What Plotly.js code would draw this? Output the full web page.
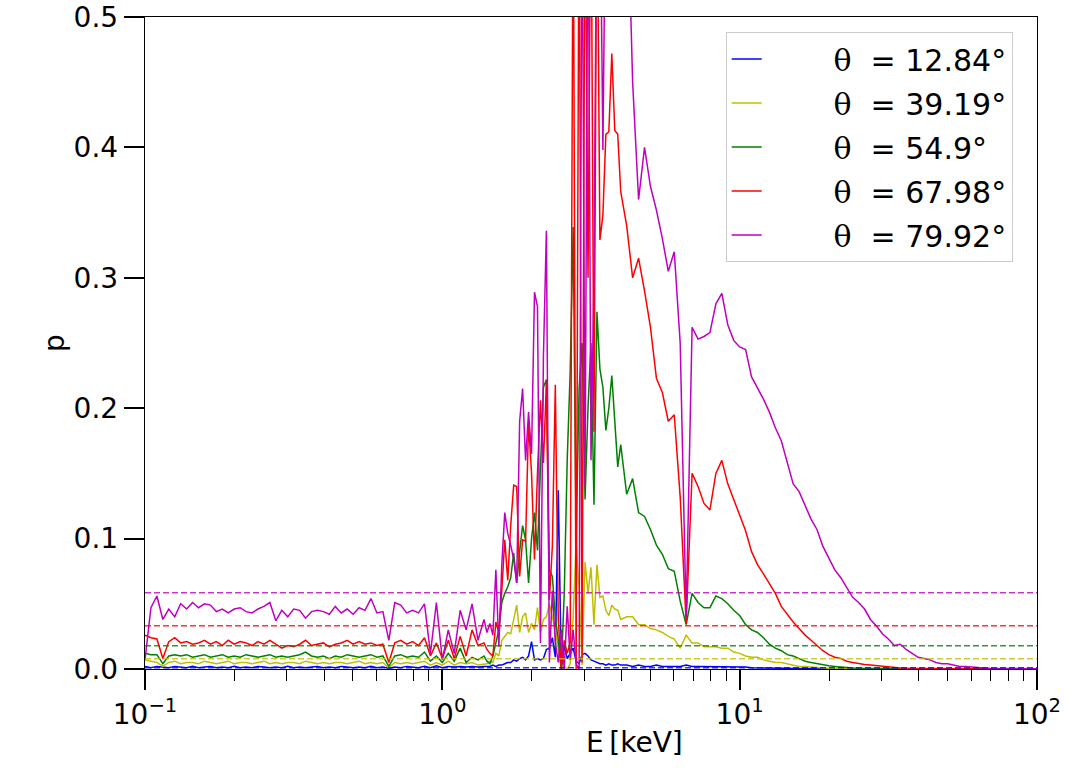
<!DOCTYPE html>
<html>
<head>
<meta charset="utf-8">
<script src="https://cdn.plot.ly/plotly-3.0.1.min.js"></script>
<style>
  html, body { margin: 0; padding: 0; background: #fff; }
  #chart { width: 1068px; height: 777px; }
</style>
</head>
<body>
<div id="chart"></div>
<script>
// energy grid (keV), log spaced, finer between 1.4 and 4 keV
const energy = [
    0.1,0.10471,0.10965,0.11482,0.12023,0.12589,0.13183,0.13804,0.14454,0.15136,
    0.15849,0.16596,0.17378,0.18197,0.19055,0.19953,0.20893,0.21878,0.22909,0.23988,
    0.25119,0.26303,0.27542,0.28840,0.30200,0.31623,0.33113,0.34674,0.36308,0.38019,
    0.39811,0.41687,0.43652,0.45709,0.47863,0.50119,0.52481,0.54954,0.57544,0.60256,
    0.63096,0.66069,0.69183,0.72444,0.75858,0.79433,0.83176,0.87096,0.91201,0.95499,
    1.0,1.0471,1.0965,1.1482,1.2023,1.2589,1.3183,1.3804,
    1.4125,1.4454,1.4791,1.5136,1.5488,1.5849,1.6218,1.6596,1.6982,1.7378,
    1.7783,1.8197,1.8621,1.9055,1.9498,1.9953,2.0417,2.0893,2.1380,2.1878,
    2.2387,2.2909,2.3442,2.3988,2.4547,2.5119,2.5704,2.6303,2.6915,2.7542,
    2.8184,2.8840,2.9512,3.0200,3.0903,3.1623,3.2359,3.3113,3.3884,3.4674,
    3.5481,3.6308,3.7154,3.8019,3.8905,3.9811,
    4.1687,4.3652,4.5709,4.7863,5.0119,5.2481,5.4954,5.7544,6.0256,6.3096,
    6.6069,6.9183,7.2444,7.5858,7.9433,8.3176,8.7096,9.1201,9.5499,10.0,
    10.471,10.965,11.482,12.023,12.589,13.183,13.804,14.454,15.136,15.849,
    16.596,17.378,18.197,19.055,19.953,20.893,21.878,22.909,23.988,25.119,
    26.303,27.542,28.840,30.200,31.623,33.113,34.674,36.308,38.019,39.811,
    41.687,43.652,45.709,47.863,50.119,52.481,54.954,57.544,60.256,63.096,
    66.069,69.183,72.444,75.858,79.433,83.176,87.096,91.201,95.499,100.0
];

// p for theta = 12.84
const p_12 = [
    0.002,0.001,0.002,0.0015,0.001,0.002,0.0015,0.001,0.002,0.001,
    0.0015,0.002,0.001,0.0015,0.001,0.002,0.001,0.0015,0.001,0.002,
    0.0015,0.001,0.0015,0.001,0.002,0.001,0.0015,0.001,0.0015,0.002,
    0.001,0.0015,0.001,0.002,0.0015,0.001,0.0015,0.001,0.002,0.001,
    0.0015,0.0005,0.0015,0.001,0.002,0.0015,0.001,0.002,0.001,0.0025,
    0.001,0.002,0.0015,0.002,0.0015,0.002,0.0015,0.002,
    0.002,0.002,0.003,0.002,0.003,0.003,0.004,0.005,0.005,0.007,
    0.006,0.008,0.009,0.007,0.010,0.021,0.007,0.008,0.007,0.008,
    0.015,0.016,0.024,0.009,0.137,0.000,0.018,0.008,0.012,0.016,
    0.006,0.004,0.011,0.012,0.010,0.007,0.006,0.005,0.004,0.004,
    0.003,0.004,0.003,0.003,0.004,0.003,
    0.003,0.002,0.003,0.002,0.002,0.003,0.002,0.002,0.002,0.002,
    0.003,0.002,0.002,0.002,0.002,0.002,0.002,0.0015,0.0015,0.0015,
    0.0015,0.001,0.001,0.001,0.0008,0.0007,0.0006,0.0005,0.0004,0.0003,
    0.0003,0.0002,0.0002,0.0002,0.0001,0.0001,0.0001,0.0001,0.0001,0.0001,
    0.0001,0.0001,0.0001,0.0001,0,0,0,0,0,0,
    0,0,0,0,0,0,0,0,0,0,
    0,0,0,0,0,0,0,0,0,0
];

// p for theta = 39.19
const p_39 = [
    0.007,0.006,0.005,0.002,0.005,0.006,0.004,0.005,0.005,0.004,
    0.006,0.005,0.004,0.005,0.006,0.004,0.005,0.005,0.004,0.005,
    0.006,0.004,0.005,0.004,0.005,0.005,0.004,0.006,0.005,0.004,
    0.005,0.004,0.005,0.005,0.004,0.005,0.006,0.004,0.005,0.004,
    0.005,0.001,0.005,0.004,0.005,0.004,0.005,0.006,0.003,0.005,
    0.003,0.006,0.003,0.005,0.004,0.005,0.003,0.004,
    0.004,0.006,0.005,0.012,0.010,0.022,0.025,0.028,0.027,0.038,
    0.049,0.028,0.040,0.043,0.028,0.035,0.030,0.047,0.028,0.038,
    0.040,0.050,0.040,0.030,0.015,0.000,0.002,0.000,0.004,0.040,
    0.097,0.061,0.003,0.082,0.058,0.078,0.034,0.080,0.055,0.056,
    0.045,0.041,0.049,0.046,0.045,0.038,
    0.040,0.040,0.034,0.034,0.031,0.030,0.028,0.025,0.023,0.016,
    0.026,0.020,0.020,0.017,0.017,0.017,0.016,0.016,0.013,0.012,
    0.010,0.009,0.009,0.007,0.006,0.005,0.005,0.004,0.003,0.002,
    0.002,0.0015,0.001,0.0008,0.0006,0.0005,0.0004,0.0003,0.0003,0.0002,
    0.0002,0.0001,0.0001,0.0001,0.0001,0.0001,0.0001,0.0001,0.0001,0,
    0,0,0,0,0,0,0,0,0,0,
    0,0,0,0,0,0,0,0,0,0
];

// p for theta = 54.9
const p_54 = [
    0.012,0.011,0.011,0.004,0.010,0.011,0.010,0.011,0.009,0.010,
    0.011,0.009,0.010,0.011,0.009,0.010,0.009,0.011,0.010,0.009,
    0.010,0.011,0.009,0.010,0.009,0.010,0.011,0.013,0.010,0.009,
    0.010,0.008,0.010,0.009,0.011,0.010,0.009,0.010,0.011,0.009,
    0.010,0.002,0.010,0.011,0.009,0.010,0.009,0.013,0.006,0.010,
    0.005,0.012,0.006,0.016,0.005,0.009,0.007,0.010,
    0.006,0.004,0.010,0.020,0.030,0.051,0.058,0.063,0.070,0.089,
    0.066,0.090,0.110,0.099,0.066,0.100,0.120,0.091,0.155,0.216,
    0.222,0.076,0.071,0.040,0.022,0.000,0.058,0.160,0.228,0.339,
    0.100,0.215,0.250,0.130,0.201,0.250,0.126,0.274,0.230,0.216,
    0.183,0.200,0.225,0.193,0.155,0.172,
    0.134,0.146,0.120,0.117,0.107,0.095,0.088,0.077,0.075,0.052,
    0.034,0.058,0.051,0.047,0.047,0.056,0.054,0.050,0.045,0.041,
    0.034,0.030,0.028,0.024,0.019,0.016,0.014,0.011,0.010,0.008,
    0.006,0.005,0.004,0.003,0.0025,0.002,0.0015,0.001,0.0008,0.0006,
    0.0005,0.0004,0.0003,0.0003,0.0002,0.0002,0.0001,0.0001,0.0001,0.0001,
    0.0001,0.0001,0.0001,0.0001,0,0,0,0,0,0,
    0,0,0,0,0,0,0,0,0,0
];

// p for theta = 67.98
const p_67 = [
    0.026,0.024,0.023,0.008,0.021,0.024,0.020,0.021,0.019,0.020,
    0.022,0.019,0.021,0.018,0.022,0.019,0.021,0.020,0.018,0.021,
    0.019,0.022,0.019,0.016,0.018,0.017,0.019,0.022,0.018,0.019,
    0.020,0.017,0.019,0.020,0.022,0.019,0.021,0.019,0.020,0.018,
    0.019,0.005,0.020,0.022,0.019,0.021,0.018,0.024,0.010,0.020,
    0.008,0.022,0.008,0.025,0.010,0.030,0.018,0.020,
    0.015,0.012,0.010,0.036,0.028,0.060,0.099,0.068,0.110,0.141,
    0.140,0.071,0.099,0.098,0.189,0.150,0.084,0.150,0.206,0.158,
    0.220,0.053,0.094,0.218,0.038,0.000,0.022,0.012,0.020,0.620,
    0.000,0.620,0.005,0.620,0.300,0.620,0.182,0.620,0.329,0.348,
    0.410,0.412,0.472,0.413,0.410,0.366,
    0.340,0.300,0.315,0.290,0.262,0.223,0.212,0.190,0.195,0.132,
    0.035,0.150,0.140,0.127,0.122,0.150,0.160,0.142,0.130,0.117,
    0.106,0.090,0.080,0.073,0.065,0.058,0.048,0.042,0.036,0.031,
    0.026,0.022,0.018,0.014,0.011,0.009,0.008,0.006,0.005,0.004,
    0.0035,0.003,0.0025,0.002,0.0015,0.001,0.0008,0.0006,0.0005,0.0004,
    0.0003,0.0003,0.0002,0.0002,0.0002,0.0001,0.0001,0.0001,0.0001,0.0001,
    0.0001,0.0001,0,0,0,0,0,0,0,0
];

// p for theta = 79.92
const p_79 = [
    0.007,0.047,0.056,0.038,0.046,0.040,0.050,0.046,0.051,0.047,
    0.050,0.049,0.044,0.046,0.043,0.046,0.047,0.044,0.043,0.046,
    0.048,0.051,0.037,0.045,0.040,0.046,0.045,0.039,0.044,0.045,
    0.044,0.042,0.048,0.043,0.046,0.042,0.047,0.045,0.054,0.043,
    0.044,0.022,0.051,0.049,0.043,0.045,0.043,0.050,0.012,0.051,
    0.007,0.030,0.012,0.045,0.030,0.050,0.022,0.038,
    0.028,0.035,0.026,0.076,0.017,0.080,0.120,0.104,0.095,0.084,
    0.066,0.190,0.215,0.160,0.197,0.165,0.289,0.278,0.020,0.240,
    0.336,0.005,0.060,0.020,0.005,0.030,0.000,0.048,0.007,0.030,
    0.004,0.000,0.620,0.140,0.620,0.160,0.300,0.620,0.620,0.398,
    0.620,0.620,0.620,0.620,0.620,0.620,
    0.620,0.450,0.360,0.400,0.370,0.352,0.330,0.305,0.320,0.250,
    0.040,0.262,0.253,0.255,0.258,0.280,0.288,0.264,0.252,0.247,
    0.245,0.224,0.216,0.207,0.197,0.185,0.175,0.158,0.142,0.136,
    0.125,0.115,0.107,0.094,0.085,0.076,0.070,0.062,0.055,0.051,
    0.046,0.038,0.033,0.027,0.023,0.018,0.019,0.015,0.012,0.009,
    0.008,0.007,0.005,0.004,0.004,0.003,0.002,0.002,0.0015,0.001,
    0.0008,0.0006,0.0005,0.0004,0.0003,0.0003,0.0002,0.0002,0.0001,0.0001
];

const angles = ['12.84', '39.19', '54.9', '67.98', '79.92'];
const colors = ['#0000ff', '#bfbf00', '#008000', '#ff0000', '#bf00bf'];
const series = [p_12, p_39, p_54, p_67, p_79];
// flat levels drawn dashed, one per angle
const p_mean = [0.0010, 0.0079, 0.0179, 0.0332, 0.0585];

// axis ticks
const major_ticks = [0.1, 1, 10, 100];
const major_labels = ['10<sup>−1</sup>', '10<sup>0</sup>', '10<sup>1</sup>', '10<sup>2</sup>'];
const minor_ticks = [0.2, 0.3, 0.4, 0.5, 0.6, 0.7, 0.8, 0.9,
                     2, 3, 4, 5, 6, 7, 8, 9,
                     20, 30, 40, 50, 60, 70, 80, 90];

const nbsp = '\u00a0';
const traces = [];

for (let i = 0; i < series.length; i++) {
    traces.push({
        x: energy,
        y: series[i],
        type: 'scatter',
        mode: 'lines',
        line: { color: colors[i], width: 1.5 },
        name: nbsp.repeat(7) + '<span style="font-family:\'DejaVu Serif\'">θ</span>' + nbsp + nbsp + '=' + nbsp + angles[i] + '°',
        legendgroup: 'g' + i
    });
}

for (let i = 0; i < p_mean.length; i++) {
    traces.push({
        x: [energy[0], energy[energy.length - 1]],
        y: [p_mean[i], p_mean[i]],
        type: 'scatter',
        mode: 'lines',
        line: { color: colors[i], width: 1.5, dash: '6px,3px' },
        opacity: 0.8,
        showlegend: false
    });
}

const tick_font = { family: 'DejaVu Sans', size: 28, color: '#000' };

const layout = {
    width: 1068,
    height: 777,
    margin: { l: 145, r: 31, t: 17, b: 108 },
    paper_bgcolor: '#fff',
    plot_bgcolor: '#fff',
    font: { family: 'DejaVu Sans', color: '#000' },
    showlegend: true,
    xaxis: {
        type: 'log',
        range: [-1, 2],
        tickmode: 'array',
        tickvals: major_ticks,
        ticktext: major_labels,
        ticks: 'outside',
        ticklen: 20,
        tickwidth: 2,
        tickcolor: '#000',
        minor: {
            tickmode: 'array',
            tickvals: minor_ticks,
            ticks: 'outside',
            ticklen: 11,
            tickwidth: 1,
            tickcolor: '#000',
            showgrid: false
        },
        showline: true,
        linecolor: '#000',
        linewidth: 1.3,
        mirror: true,
        showgrid: false,
        zeroline: false,
        tickfont: tick_font
    },
    yaxis: {
        range: [0, 0.5],
        dtick: 0.1,
        tick0: 0,
        tickformat: '.1f',
        ticks: 'outside',
        ticklen: 20,
        tickwidth: 2,
        tickcolor: '#000',
        showline: true,
        linecolor: '#000',
        linewidth: 1.3,
        mirror: true,
        showgrid: false,
        zeroline: false,
        tickfont: tick_font,
        title: { text: 'p', font: tick_font, standoff: 0 }
    },
    // x label sits right of the axis centre in the original
    annotations: [{
        text: 'E\u2009[keV]',
        xref: 'paper',
        yref: 'paper',
        x: 0.549,
        y: -0.112,
        xanchor: 'center',
        yanchor: 'middle',
        showarrow: false,
        font: tick_font
    }],
    legend: {
        x: 0.651,
        y: 0.977,
        xanchor: 'left',
        yanchor: 'top',
        bgcolor: 'rgba(255,255,255,0.8)',
        bordercolor: '#cccccc',
        borderwidth: 1,
        font: { family: 'DejaVu Sans', size: 30, color: '#000' },
        traceorder: 'grouped',
        tracegroupgap: 2
    }
};

Plotly.newPlot('chart', traces, layout, { staticPlot: true, displayModeBar: false });
</script>
</body>
</html>
